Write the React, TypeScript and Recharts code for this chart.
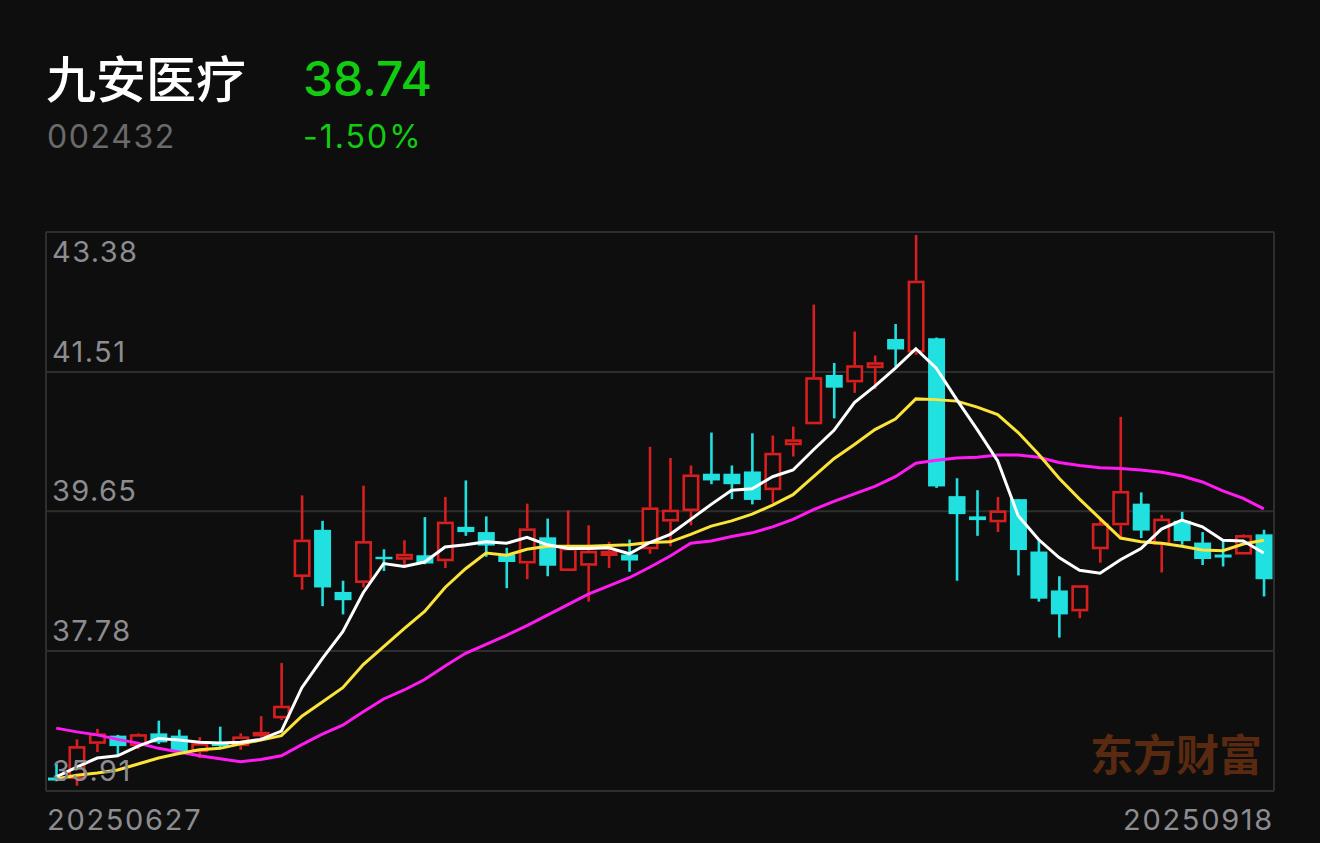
import React from 'react';
import { ComposedChart, Bar, Line, XAxis, YAxis, CartesianGrid } from 'recharts';

const dates = [
  '20250627', '20250630',
  '20250701', '20250702', '20250703', '20250704', '20250707', '20250708', '20250709', '20250710', '20250711',
  '20250714', '20250715', '20250716', '20250717', '20250718', '20250721', '20250722', '20250723', '20250724',
  '20250725', '20250728', '20250729', '20250730', '20250731',
  '20250801', '20250804', '20250805', '20250806', '20250807', '20250808', '20250811', '20250812', '20250813',
  '20250814', '20250815', '20250818', '20250819', '20250820', '20250821', '20250822', '20250825', '20250826',
  '20250827', '20250828', '20250829',
  '20250901', '20250902', '20250903', '20250904', '20250905', '20250908', '20250909', '20250910', '20250911',
  '20250912', '20250915', '20250916', '20250917', '20250918',
];

const opens = [
  36.09, 36.07, 36.54, 36.65, 36.51, 36.68, 36.65, 36.43, 36.55, 36.51,
  36.64, 36.88, 38.77, 39.40, 38.57, 38.69, 39.04, 39.00, 39.06, 38.98,
  39.44, 39.37, 39.07, 38.95, 39.30, 38.85, 38.92, 39.05, 39.07, 39.14,
  39.51, 39.65, 40.15, 40.15, 40.18, 39.93, 40.53, 40.81, 41.47, 41.37,
  41.56, 41.95, 41.77, 41.96, 39.85, 39.58, 39.50, 39.81, 39.11, 38.59,
  38.31, 39.14, 39.46, 39.75, 39.20, 39.52, 39.23, 39.07, 39.07, 39.34,
];
const highs = [
  36.27, 36.60, 36.74, 36.66, 36.68, 36.85, 36.73, 36.63, 36.77, 36.68,
  36.91, 37.62, 39.86, 39.52, 38.72, 39.99, 39.14, 39.26, 39.57, 39.84,
  40.06, 39.58, 39.16, 39.75, 39.55, 39.66, 39.46, 39.24, 39.27, 40.51,
  40.36, 40.26, 40.70, 40.26, 40.69, 40.66, 40.78, 42.41, 41.63, 42.05,
  41.73, 42.15, 43.34, 41.97, 40.09, 39.93, 39.84, 39.81, 39.26, 38.78,
  38.66, 39.54, 40.91, 39.90, 39.60, 39.64, 39.37, 39.27, 39.34, 39.40,
];
const lows = [
  36.04, 35.98, 36.43, 36.38, 36.47, 36.54, 36.40, 36.35, 36.47, 36.46,
  36.60, 36.86, 38.60, 38.38, 38.27, 38.63, 38.85, 38.89, 38.94, 38.89,
  39.32, 39.04, 38.62, 38.74, 38.78, 38.85, 38.44, 38.89, 38.84, 39.08,
  39.18, 39.46, 40.01, 39.81, 39.74, 39.76, 40.38, 40.81, 40.89, 41.23,
  41.28, 41.58, 41.74, 39.96, 38.72, 39.32, 39.37, 38.79, 38.44, 37.96,
  38.22, 38.96, 39.27, 39.29, 38.83, 39.20, 38.93, 38.91, 39.07, 38.51,
];
const closes = [
  36.05, 36.51, 36.68, 36.51, 36.67, 36.56, 36.43, 36.55, 36.51, 36.64,
  36.70, 37.05, 39.27, 38.63, 38.46, 39.25, 39.02, 39.08, 38.95, 39.51,
  39.37, 39.19, 38.97, 39.42, 38.92, 39.16, 39.12, 39.12, 38.99, 39.70,
  39.67, 40.14, 40.06, 40.01, 39.80, 40.43, 40.61, 41.44, 41.30, 41.60,
  41.64, 41.81, 42.73, 39.98, 39.61, 39.53, 39.66, 39.13, 38.48, 38.27,
  38.66, 39.49, 39.92, 39.39, 39.55, 39.25, 39.01, 39.03, 39.33, 38.74,
];

const ma5 = [
  36.10, 36.23, 36.35, 36.38, 36.51, 36.61, 36.59, 36.56, 36.55, 36.56,
  36.60, 36.71, 37.29, 37.68, 38.04, 38.56, 38.95, 38.91, 38.97, 39.17,
  39.20, 39.24, 39.22, 39.30, 39.20, 39.15, 39.15, 39.16, 39.08, 39.23,
  39.34, 39.54, 39.74, 39.93, 39.95, 40.11, 40.20, 40.47, 40.73, 41.10,
  41.32, 41.56, 41.82, 41.56, 41.14, 40.74, 40.32, 39.59, 39.27, 39.03,
  38.86, 38.82, 39.00, 39.15, 39.41, 39.53, 39.44, 39.26, 39.25, 39.09,
];
const ma10 = [
  36.07, 36.12, 36.15, 36.19, 36.27, 36.35, 36.41, 36.46, 36.48, 36.54,
  36.59, 36.65, 36.91, 37.10, 37.29, 37.60, 37.84, 38.08, 38.31, 38.63,
  38.88, 39.09, 39.06, 39.14, 39.18, 39.18, 39.18, 39.19, 39.20, 39.23,
  39.24, 39.34, 39.45, 39.52, 39.61, 39.73, 39.87, 40.11, 40.35, 40.54,
  40.74, 40.88, 41.15, 41.14, 41.12, 41.04, 40.94, 40.70, 40.41, 40.09,
  39.81, 39.55, 39.29, 39.24, 39.22, 39.18, 39.13, 39.12, 39.21, 39.26,
];
const ma20 = [
  36.75, 36.70, 36.66, 36.60, 36.55, 36.48, 36.43, 36.38, 36.34, 36.30,
  36.33, 36.38, 36.53, 36.67, 36.79, 36.97, 37.14, 37.26, 37.40, 37.58,
  37.75, 37.87, 37.99, 38.12, 38.26, 38.40, 38.54, 38.65, 38.76, 38.90,
  39.05, 39.22, 39.25, 39.31, 39.36, 39.44, 39.54, 39.67, 39.78, 39.88,
  39.98, 40.11, 40.29, 40.33, 40.36, 40.37, 40.40, 40.40, 40.37, 40.30,
  40.26, 40.23, 40.22, 40.20, 40.17, 40.12, 40.04, 39.92, 39.82, 39.68,
];

const yTicks = [35.91, 37.78, 39.65, 41.51, 43.38];

const stockName = '九安医疗';
const stockCode = '002432';
const lastPrice = '38.74';
const pctChange = '-1.50%';
const watermark = '东方财富';

const BG = '#0e0e0e';
const RED = '#d81f1f';
const CYAN = '#20e0e0';
const GREEN = '#12cc12';
const AXIS_TEXT = '#8c8c91';
const NUM_FONT = 'Inter, "Liberation Sans", Arial, sans-serif';
const CJK_FONT = '"Noto Sans CJK SC", "Noto Sans", sans-serif';

const data = dates.map((d, i) => ({
  date: d,
  range: [lows[i], highs[i]],
  open: opens[i],
  close: closes[i],
  high: highs[i],
  low: lows[i],
  ma5: ma5[i],
  ma10: ma10[i],
  ma20: ma20[i],
}));

const Candle = (props: any) => {
  const { x, y, width, height, payload } = props;
  if (!payload || height == null || x == null) return null;
  const { open, close, high, low } = payload;
  let top = y;
  let h = height;
  if (h < 0) {
    top = y + h;
    h = -h;
  }
  const ppu = high - low > 0 ? h / (high - low) : 0;
  const yOf = (v: number) => top + (high - v) * ppu;
  const cx = x + width / 2;
  const up = close > open;
  const bTop = yOf(Math.max(open, close));
  const bBot = yOf(Math.min(open, close));
  const sw = 2.6;
  if (up) {
    return (
      <g>
        <line x1={cx} x2={cx} y1={yOf(high)} y2={bTop} stroke={RED} strokeWidth={sw} />
        <line x1={cx} x2={cx} y1={bBot} y2={yOf(low)} stroke={RED} strokeWidth={sw} />
        <rect
          x={x + sw / 2}
          y={bTop + sw / 2}
          width={width - sw}
          height={Math.max(bBot - bTop - sw, 0.6)}
          fill={BG}
          stroke={RED}
          strokeWidth={sw}
        />
      </g>
    );
  }
  return (
    <g>
      <line x1={cx} x2={cx} y1={yOf(high)} y2={yOf(low)} stroke={CYAN} strokeWidth={sw} />
      <rect x={x} y={bTop} width={width} height={Math.max(bBot - bTop, 2.4)} fill={CYAN} />
    </g>
  );
};

const YTick = (props: any) => {
  const { y, payload } = props;
  const v = Number(payload.value);
  const isTop = Math.abs(v - yTicks[yTicks.length - 1]) < 1e-6;
  return (
    <text
      x={52}
      y={isTop ? y + 30 : y - 10}
      fill={AXIS_TEXT}
      fontSize={29}
      letterSpacing={1.4}
      fontFamily={NUM_FONT}
      textAnchor="start"
    >
      {v.toFixed(2)}
    </text>
  );
};

const XTick = (props: any) => {
  const { payload } = props;
  const first = payload.value === dates[0];
  return (
    <text
      x={first ? 47 : 1274}
      y={830}
      fill={AXIS_TEXT}
      fontSize={29}
      letterSpacing={1.7}
      fontFamily={NUM_FONT}
      textAnchor={first ? 'start' : 'end'}
    >
      {payload.value}
    </text>
  );
};

export default function App() {
  return (
    <div
      style={{
        position: 'fixed',
        left: 0,
        top: 0,
        width: 1320,
        height: 843,
        background: BG,
        overflow: 'hidden',
      }}
    >
      <svg
        width={1320}
        height={843}
        style={{ position: 'absolute', left: 0, top: 0 }}
      >
        <text x={46} y={98} fill="#ffffff" fontSize={50} fontWeight={500} fontFamily={CJK_FONT}>
          {stockName}
        </text>
        <text x={303} y={96} fill={GREEN} fontSize={48} fontWeight={500} fontFamily={NUM_FONT}>
          {lastPrice}
        </text>
        <text x={47} y={148} fill="#6a6a6a" fontSize={32} letterSpacing={1.6} fontFamily={NUM_FONT}>
          {stockCode}
        </text>
        <text x={303} y={148} fill={GREEN} fontSize={32} letterSpacing={2} fontFamily={NUM_FONT}>
          {pctChange}
        </text>
        <text
          x={1090}
          y={771}
          fill="#5a2a10"
          fontSize={43}
          fontWeight={700}
          fontFamily={CJK_FONT}
        >
          {watermark}
        </text>
      </svg>
      <div style={{ position: 'absolute', left: 0, top: 0 }}>
        <ComposedChart
          width={1320}
          height={843}
          data={data}
          margin={{ top: 232, right: 46, bottom: 0, left: 6 }}
          barSize={17}
        >
          <CartesianGrid
            stroke="#2e2e2e"
            strokeWidth={2}
            horizontal={true}
            vertical={true}
            verticalPoints={[46, 1274]}
          />
          <XAxis
            dataKey="date"
            height={52}
            axisLine={false}
            tickLine={false}
            ticks={[dates[0], dates[dates.length - 1]]}
            interval={0}
            tick={<XTick />}
          />
          <YAxis
            type="number"
            domain={[yTicks[0], yTicks[yTicks.length - 1]]}
            ticks={yTicks}
            allowDataOverflow={true}
            width={40}
            axisLine={false}
            tickLine={false}
            interval={0}
            tick={<YTick />}
          />
          <Bar dataKey="range" shape={<Candle />} isAnimationActive={false} />
          <Line type="linear" dataKey="ma20" stroke="#ff1af2" strokeWidth={3} dot={false} isAnimationActive={false} />
          <Line type="linear" dataKey="ma10" stroke="#fbe33a" strokeWidth={3} dot={false} isAnimationActive={false} />
          <Line type="linear" dataKey="ma5" stroke="#ffffff" strokeWidth={3} dot={false} isAnimationActive={false} />
        </ComposedChart>
      </div>
    </div>
  );
}
